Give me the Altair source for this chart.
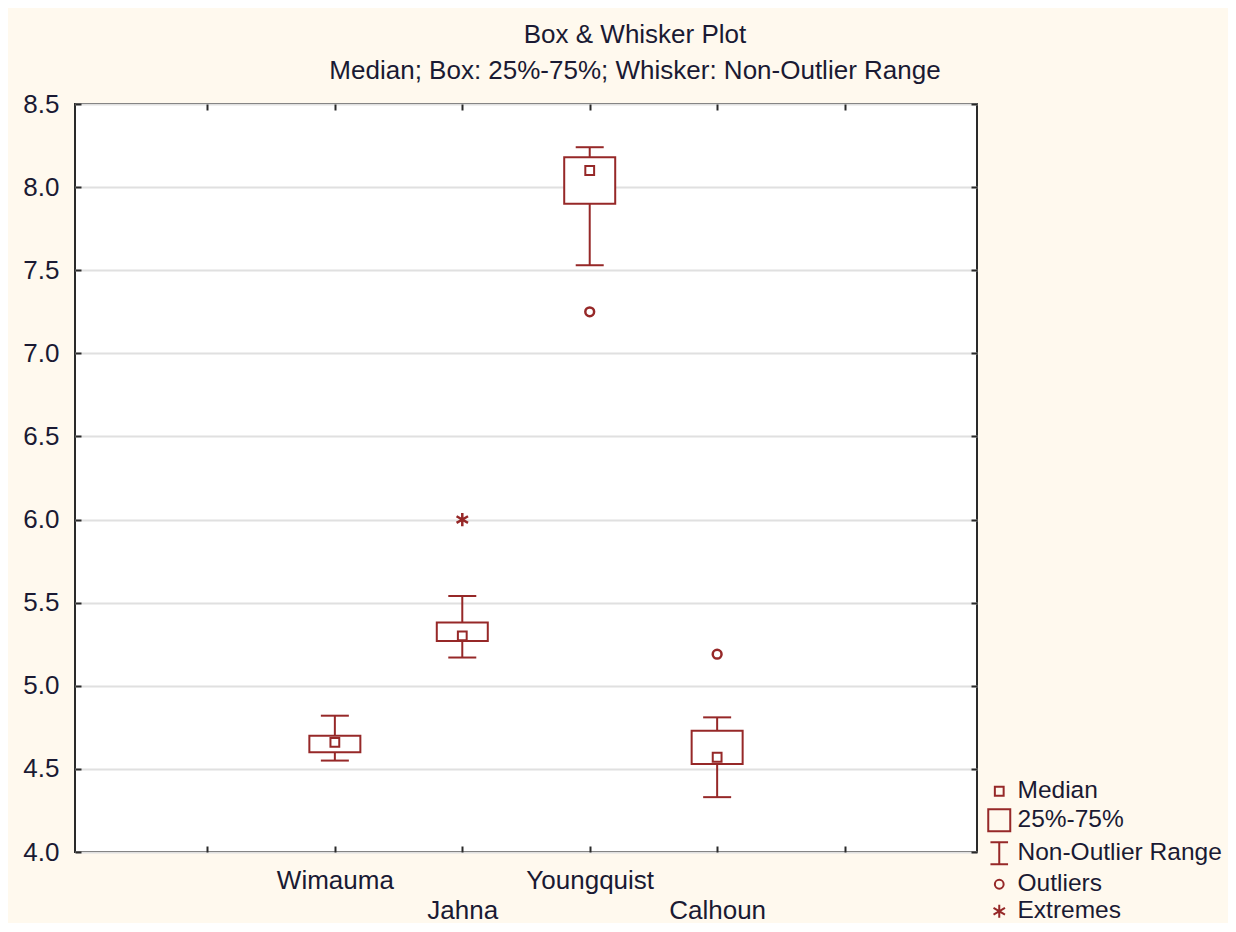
import altair as alt
import pandas as pd

# ---------------- data ----------------
categories = ["Wimauma", "Jahna", "Youngquist", "Calhoun"]
whisker_low = [4.55, 5.17, 7.53, 4.33]
q1 = [4.60, 5.27, 7.90, 4.53]
median = [4.66, 5.30, 8.10, 4.57]
q3 = [4.70, 5.38, 8.18, 4.73]
whisker_high = [4.82, 5.54, 8.24, 4.81]

point_category = ["Jahna", "Youngquist", "Calhoun"]
point_value = [6.00, 7.25, 5.19]
point_kind = ["Extremes", "Outliers", "Outliers"]

legend_labels = ["Median", "25%-75%", "Non-Outlier Range", "Outliers", "Extremes"]
y_ticks = [4.0, 4.5, 5.0, 5.5, 6.0, 6.5, 7.0, 7.5, 8.0, 8.5]

title_text = "Box & Whisker Plot"
subtitle_text = "Median; Box: 25%-75%; Whisker: Non-Outlier Range"

# ---------------- styles ----------------
RED = "#962828"
TXT = "#1a1a33"
FONT = "Liberation Sans"
FS = 26

slot = {c: i + 2 for i, c in enumerate(categories)}
n_slots = len(categories) + 3
x_ticks = list(range(1, n_slots))

summary = pd.DataFrame({
    "category": categories,
    "slot": [slot[c] for c in categories],
    "lo": whisker_low, "q1": q1, "med": median, "q3": q3, "hi": whisker_high,
})
points = pd.DataFrame({
    "category": point_category,
    "slot": [slot[c] for c in point_category],
    "value": point_value,
    "kind": point_kind,
})

# label expression built from the category list (staggered rows)
parts = []
for i, c in enumerate(categories):
    lab = f"'{c}'" if i % 2 == 0 else f"['', '{c}']"
    parts.append(f"datum.value == {slot[c]} ? {lab}")
label_expr = " : ".join(parts) + " : ''"

xscale = alt.Scale(domain=[0, n_slots], nice=False, zero=False)
yscale = alt.Scale(domain=[4.0, 8.5], nice=False, zero=False)

inward = {"expr": "-6"}

bottom_axis = alt.Axis(orient="bottom", values=x_ticks, labelExpr=label_expr,
                       tickSize=inward, labelPadding=21, labelLineHeight=30,
                       grid=False, title=None, labelBaseline="top")
left_axis = alt.Axis(orient="left", values=y_ticks, format=".1f",
                     tickSize=inward, labelPadding=22, grid=True,
                     title=None, labelBaseline="middle")
top_axis = alt.Axis(orient="top", values=x_ticks, labels=False,
                    tickSize=inward, grid=False, title=None)
right_axis = alt.Axis(orient="right", values=y_ticks, labels=False,
                      tickSize=inward, grid=False, title=None)

shape_scale = alt.Scale(
    domain=legend_labels,
    range=[
        "M-0.4,-0.4H0.4V0.4H-0.4Z",
        "M-1,-1H1V1H-1Z",
        "M-0.8,-1H0.8M0,-1V1M-0.8,1H0.8",
        "M0.4,0A0.4,0.4,0,1,1,-0.4,0A0.4,0.4,0,1,1,0.4,0Z",
        "M0,-0.6V0.6M-0.52,-0.3L0.52,0.3M-0.52,0.3L0.52,-0.3",
    ],
)
legend = alt.Legend(title=None, orient="none", legendX=912, legendY=675,
                    padding=0, labelFont=FONT, labelFontSize=24.5, labelColor=TXT,
                    labelLimit=0, symbolSize=484, symbolStrokeWidth=2,
                    symbolStrokeColor=RED, rowPadding=2, labelOffset=6,
                    symbolOpacity=1)

base = alt.Chart(summary)

whisker = base.mark_rule(color=RED, strokeWidth=2).encode(
    x=alt.X("slot:Q", scale=xscale, axis=top_axis),
    y=alt.Y("lo:Q", scale=yscale, axis=right_axis),
    y2="hi:Q",
)
box = base.mark_bar(fill="white", stroke=RED, strokeWidth=2, size=51).encode(
    x=alt.X("slot:Q", scale=xscale, axis=bottom_axis),
    y=alt.Y("q1:Q", scale=yscale, axis=left_axis),
    y2="q3:Q",
)
cap_hi = base.mark_tick(orient="horizontal", color=RED, thickness=2, size=28, opacity=1).encode(
    x=alt.X("slot:Q", scale=xscale, axis=None),
    y=alt.Y("hi:Q", scale=yscale, axis=None),
)
cap_lo = base.mark_tick(orient="horizontal", color=RED, thickness=2, size=28, opacity=1).encode(
    x=alt.X("slot:Q", scale=xscale, axis=None),
    y=alt.Y("lo:Q", scale=yscale, axis=None),
)
med = base.transform_calculate(kind="'" + legend_labels[0] + "'").mark_point(
    filled=False, color=RED, strokeWidth=2, size=484, opacity=1
).encode(
    x=alt.X("slot:Q", scale=xscale, axis=None),
    y=alt.Y("med:Q", scale=yscale, axis=None),
    shape=alt.Shape("kind:N", scale=shape_scale, legend=legend),
)
pts = alt.Chart(points).mark_point(filled=False, color=RED, strokeWidth=2.5, size=484, opacity=1).encode(
    x=alt.X("slot:Q", scale=xscale, axis=None),
    y=alt.Y("value:Q", scale=yscale, axis=None),
    shape=alt.Shape("kind:N", scale=shape_scale, legend=legend),
)

chart = alt.layer(whisker, box, cap_hi, cap_lo, med, pts).resolve_axis(
    x="independent", y="independent"
).properties(
    width=902,
    height=748,
    autosize=alt.AutoSizeParams(type="none"),
    padding={"left": 67, "top": 96, "right": 251, "bottom": 71},
    background="#FFF9EE",
    title=alt.TitleParams(
        text=title_text, subtitle=subtitle_text, anchor="middle", frame="group",
        dx=109, offset=7, font=FONT, fontSize=FS, fontWeight="normal", color=TXT,
        subtitleFont=FONT, subtitleFontSize=FS, subtitleColor=TXT, subtitlePadding=10,
    ),
).configure_view(
    fill="white", stroke="#2a2a2a", strokeWidth=2
).configure_axis(
    labelFont=FONT, labelFontSize=FS, labelColor=TXT, tickColor="#2a2a2a",
    tickWidth=2, domain=False, gridColor="#E0E0E0", gridWidth=2,
)

chart.save("out.html", embed_options={"renderer": "svg", "actions": False})
